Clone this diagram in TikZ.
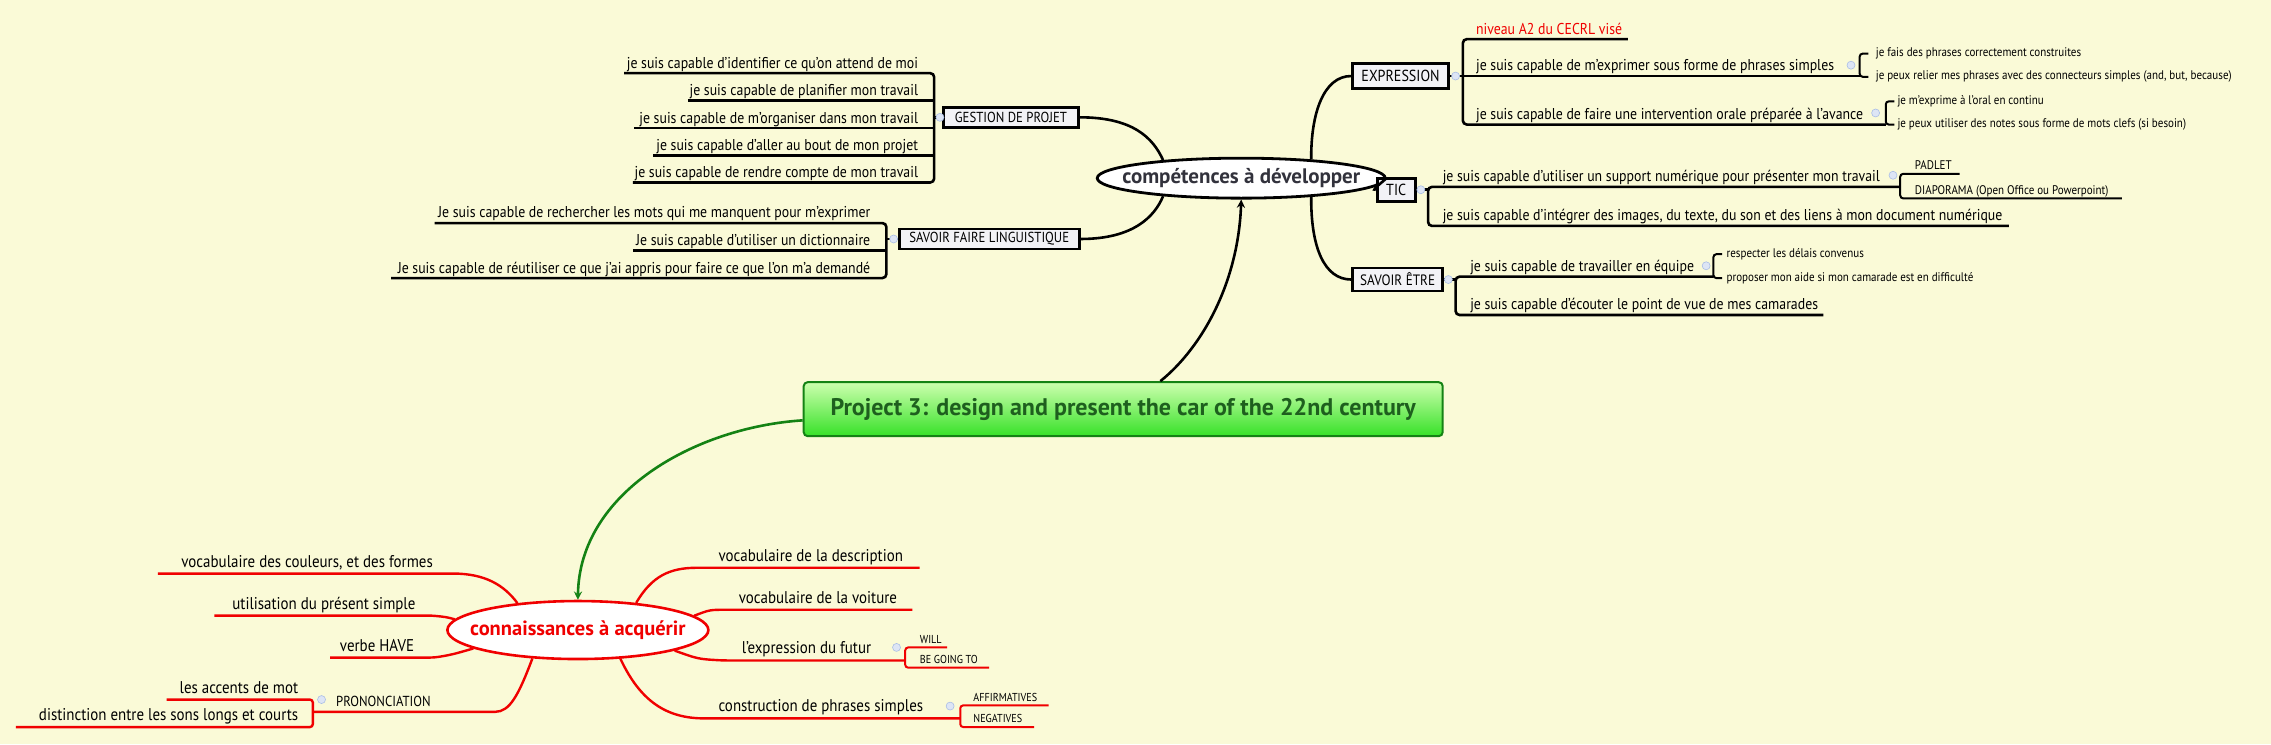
\documentclass[tikz,border=0pt]{standalone}
\usepackage{fontspec}
\usetikzlibrary{shapes.geometric}
\setmainfont{PT Sans}[FakeStretch=0.88]
\newfontfamily\bfam{PT Sans}
\definecolor{bg}{RGB}{250,250,215}
\definecolor{dgreen}{RGB}{20,130,20}
\definecolor{tgreen}{RGB}{30,95,30}
\definecolor{myred}{RGB}{240,0,0}
\definecolor{boxfill}{RGB}{242,242,246}
\definecolor{icnblue}{RGB}{170,190,230}
\definecolor{comptext}{RGB}{50,50,60}
\definecolor{gtop}{RGB}{205,255,175}
\definecolor{gbot}{RGB}{55,225,40}
\tikzset{
 br/.style={line width=2.6pt,black,rounded corners=4pt},
 sbr/.style={line width=2pt,black,rounded corners=3pt},
 rl/.style={line width=2.4pt,myred,rounded corners=4pt},
 ct/.style={inner sep=0pt,font=\fontsize{15.7}{18}\selectfont},
 rt/.style={inner sep=0pt,font=\fontsize{17}{20}\selectfont},
 st/.style={inner sep=0pt,font=\fontsize{12.5}{14}\selectfont},
 ut/.style={inner sep=0pt,font=\fontsize{11.5}{13}\selectfont},
 cbox/.style={draw,line width=2.8pt,fill=boxfill,inner sep=0pt},
 icn/.style={circle,fill=icnblue!40,draw=icnblue,line width=0.6pt,minimum size=8pt,inner sep=0pt},
}
\begin{document}
\begin{tikzpicture}[x=1.4483pt,y=-1.4483pt]
\fill[bg] (0,0) rectangle (1568,514);
\useasboundingbox (0,0) rectangle (1568,514);

% central nodes
\node[draw=dgreen,line width=2pt,rounded corners=4pt,top color=gtop,bottom color=gbot,minimum width=639pt,minimum height=54pt,text=tgreen,font=\bfam\bfseries\fontsize{24}{28}\selectfont] (title) at (775.5,282.5) {Project 3: design and present the car of the 22nd century};
\node[ellipse,draw,line width=2.8pt,fill=white,minimum width=288pt,minimum height=40pt,inner xsep=-28pt,inner ysep=0pt,text=comptext,font=\bfam\bfseries\fontsize{21}{24}\selectfont] (comp) at (857,123) {compétences à développer};
\node[ellipse,draw=myred,line width=2.6pt,fill=white,minimum width=261pt,minimum height=58pt,inner xsep=-26pt,inner ysep=0pt,text=myred,font=\bfam\bfseries\fontsize{20.5}{24}\selectfont] (conn) at (399,435) {connaissances à acquérir};

\draw[line width=2.6pt,-stealth] (title.37) .. controls (830,240) and (855,195) .. (comp.south);
\draw[line width=2.6pt,dgreen,-stealth] (title.182) .. controls (480,295) and (400,340) .. (conn.north);

% category boxes
\node[cbox,minimum width=135pt,minimum height=20pt,font=\fontsize{14.5}{16}\selectfont] (gp) at (698,81) {GESTION DE PROJET};
\node[cbox,minimum width=180pt,minimum height=20pt,font=\fontsize{14.5}{16}\selectfont] (sf) at (683,165) {SAVOIR FAIRE LINGUISTIQUE};
\node[cbox,minimum width=96pt,minimum height=25pt,font=\fontsize{16}{18}\selectfont] (ex) at (967,52.5) {EXPRESSION};
\node[cbox,minimum width=38pt,minimum height=23pt,font=\fontsize{16}{18}\selectfont] (tic) at (964,131) {TIC};
\node[cbox,minimum width=90pt,minimum height=23pt,font=\fontsize{15}{17}\selectfont] (se) at (965,193) {SAVOIR ÊTRE};

\draw[br] (gp.east) .. controls (782,81) and (796,95) .. (comp.167);
\draw[br] (sf.east) .. controls (782,165) and (797,150) .. (comp.193);
\draw[br] (comp.15) .. controls (905,78) and (914,52.5) .. (ex.west);
\draw[br] (comp.east) .. controls (948,131) .. (tic.west);
\draw[br] (comp.-15) .. controls (905,170) and (914,193) .. (se.west);

% GESTION DE PROJET children
\draw[br] (431,50.5) -- (645,50.5) -- (645,126) -- (437,126);
\draw[br] (475,69.5) -- (645,69.5);
\draw[br] (438,88.5) -- (645,88.5);
\draw[br] (451,107.5) -- (645,107.5);
\draw[br] (gp.west) -- (645,81);
\node[icn] (igp) at (649,81) {};
\node[ct,anchor=base east] (gp1) at (634,47) {je suis capable d'identifier ce qu'on attend de moi};
\node[ct,anchor=base east] (gp2) at (634,66) {je suis capable de planifier mon travail};
\node[ct,anchor=base east] (gp3) at (634,85) {je suis capable de m'organiser dans mon travail};
\node[ct,anchor=base east] (gp4) at (634,104) {je suis capable d'aller au bout de mon projet};
\node[ct,anchor=base east] (gp5) at (634,122.5) {je suis capable de rendre compte de mon travail};

% SAVOIR FAIRE children
\draw[br] (300,154) -- (612,154) -- (612,192) -- (270,192);
\draw[br] (437,173) -- (612,173);
\draw[br] (sf.west) -- (612,165);
\node[icn] (isf) at (617,165) {};
\node[ct,anchor=base east] (sf1) at (601,150.5) {Je suis capable de rechercher les mots qui me manquent pour m'exprimer};
\node[ct,anchor=base east] (sf2) at (601,169.5) {Je suis capable d'utiliser un dictionnaire};
\node[ct,anchor=base east] (sf3) at (601,188.5) {Je suis capable de réutiliser ce que j'ai appris pour faire ce que l'on m'a demandé};

% EXPRESSION children
\draw[br] (1124,27) -- (1010,27) -- (1010,86) -- (1302,86);
\draw[br] (ex.east) -- (1284,52.5);
\node[icn] (iex) at (1005,52.5) {};
\node[ct,anchor=base west,text=myred] (ex0) at (1019,23.5) {niveau A2 du CECRL visé};
\node[ct,anchor=base west] (ex1) at (1019,49) {je suis capable de m'exprimer sous forme de phrases simples};
\node[ct,anchor=base west] (ex2) at (1019,82.5) {je suis capable de faire une intervention orale préparée à l'avance};
\node[icn] (iex1) at (1278,45) {};
\node[icn] (iex2) at (1295,78) {};
\draw[sbr] (1290,37) -- (1284,37) -- (1284,53) -- (1290,53);
\draw[sbr] (1308,70) -- (1302,70) -- (1302,86) -- (1308,86);
\node[st,anchor=west] (ex11) at (1295,37) {je fais des phrases correctement construites};
\node[st,anchor=west] (ex12) at (1295,53) {je peux relier mes phrases avec des connecteurs simples (and, but, because)};
\node[st,anchor=west] (ex21) at (1310,70) {je m'exprime à l'oral en continu};
\node[st,anchor=west] (ex22) at (1310,86) {je peux utiliser des notes sous forme de mots clefs (si besoin)};

% TIC children
\draw[br] (1312,129) -- (986,129) -- (986,156) -- (1387,156);
\draw[br] (tic.east) -- (986,131);
\node[icn] (itic) at (981,131) {};
\node[ct,anchor=base west] (tic1) at (996,125.5) {je suis capable d'utiliser un support numérique pour présenter mon travail};
\node[ct,anchor=base west] (tic2) at (996,152.5) {je suis capable d'intégrer des images, du texte, du son et des liens à mon document numérique};
\node[icn] (itic1) at (1307,121) {};
\draw[sbr] (1353,120) -- (1312,120) -- (1312,137) -- (1465,137);
\node[st,anchor=base west] (tic11) at (1322,117) {PADLET};
\node[st,anchor=base west] (tic12) at (1322,134) {DIAPORAMA (Open Office ou Powerpoint)};

% SAVOIR ETRE children
\draw[br] (1183,191) -- (1005,191) -- (1005,217.5) -- (1259,217.5);
\draw[br] (se.east) -- (1005,193);
\node[icn] (ise) at (1000,193) {};
\node[ct,anchor=base west] (se1) at (1015,187.5) {je suis capable de travailler en équipe};
\node[ct,anchor=base west] (se2) at (1015,214) {je suis capable d'écouter le point de vue de mes camarades};
\node[icn] (ise1) at (1178,183.5) {};
\draw[sbr] (1189,175.5) -- (1183,175.5) -- (1183,192) -- (1189,192);
\node[st,anchor=west] (se11) at (1192,175.5) {respecter les délais convenus};
\node[st,anchor=west] (se12) at (1192,192) {proposer mon aide si mon camarade est en difficulté};

% connaissances children (right)
\draw[rl] (conn.25) .. controls (450,398) and (462,392) .. (484,392) -- (635,392);
\node[rt,anchor=base west] (c1) at (496,387.5) {vocabulaire de la description};
\draw[rl] (conn.7) .. controls (490,421) .. (504,421) -- (630,421);
\node[rt,anchor=base west] (c2) at (510,416.5) {vocabulaire de la voiture};
\draw[rl] (conn.-12) .. controls (482,455) .. (499,456) -- (625,456);
\node[rt,anchor=base west] (c3) at (512,451.5) {l'expression du futur};
\node[icn] (ic3) at (619,447) {};
\draw[sbr,myred] (654,447) -- (625,447) -- (625,461) -- (683,461);
\node[ut,anchor=base west] (c31) at (635,444) {WILL};
\node[ut,anchor=base west] (c32) at (635,458) {BE GOING TO};
\draw[rl] (conn.-34) .. controls (442,484) and (460,496) .. (489,496) -- (663,496);
\node[rt,anchor=base west] (c4) at (496,491.5) {construction de phrases simples};
\node[icn] (ic4) at (656,487.5) {};
\draw[sbr,myred] (724,487) -- (663,487) -- (663,502) -- (714,502);
\node[ut,anchor=base west] (c41) at (672,484) {AFFIRMATIVES};
\node[ut,anchor=base west] (c42) at (672,499) {NEGATIVES};

% connaissances children (left)
\draw[rl] (conn.156) .. controls (348,404) and (335,396) .. (310,396) -- (109,396);
\node[rt,anchor=base east] (c5) at (299,391.5) {vocabulaire des couleurs, et des formes};
\draw[rl] (conn.175) .. controls (308,426) .. (298,425) -- (148,425);
\node[rt,anchor=base east] (c6) at (287,420.5) {utilisation du présent simple};
\draw[rl] (conn.190) .. controls (312,452) .. (300,454) -- (228,454);
\node[rt,anchor=base east] (c7) at (286,449.5) {verbe HAVE};
\draw[rl] (conn.212) .. controls (358,480) and (352,491.5) .. (339,491.5) -- (216,491.5);
\node[st,font=\fontsize{14.5}{16}\selectfont,anchor=base west] (c8) at (232,487.5) {PRONONCIATION};
\node[icn] (ic8) at (222,483) {};
\draw[sbr,myred,line width=2.4pt] (115,483) -- (216,483) -- (216,502) -- (11,502);
\node[rt,anchor=base east] (c81) at (206,478.5) {les accents de mot};
\node[rt,anchor=base east] (c82) at (206,497.5) {distinction entre les sons longs et courts};
\end{tikzpicture}
\end{document}
